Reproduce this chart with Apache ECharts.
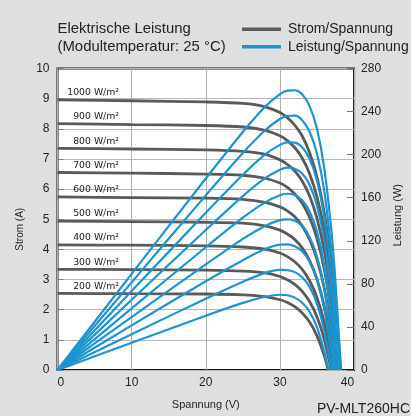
<!DOCTYPE html>
<html><head><meta charset="utf-8">
<script src="https://cdn.jsdelivr.net/npm/echarts@6/dist/echarts.min.js"></script>
<style>html,body{margin:0;padding:0;background:#dedfe1;}#c{width:411px;height:416px;}</style>
</head><body><div id="c"></div>
<script>
// Shared voltage sample points (V)
const voltage = [0, 10, 20, 25, 28, 30, 31, 32, 33, 34, 35, 36, 37, 37.5, 38];
const irradianceLabels = ['1000 W/m²', '900 W/m²', '800 W/m²', '700 W/m²', '600 W/m²', '500 W/m²', '400 W/m²', '300 W/m²', '200 W/m²'];
const openCircuitVoltage = [38.2, 38.1, 37.95, 37.8, 37.6, 37.4, 37.2, 36.9, 36.5];

// Current (A) at each voltage point
const current1000 = [8.96, 8.93, 8.89, 8.84, 8.73, 8.54, 8.37, 8.12, 7.76, 7.21, 6.40, 5.18, 3.38, 2.16, 0.68];
const current900  = [8.17, 8.14, 8.11, 8.06, 7.95, 7.77, 7.61, 7.38, 7.03, 6.51, 5.74, 4.59, 2.87, 1.72, 0.32];
const current800  = [7.35, 7.33, 7.30, 7.25, 7.15, 6.97, 6.82, 6.60, 6.27, 5.77, 5.03, 3.93, 2.30, 1.20];
const current700  = [6.55, 6.53, 6.50, 6.46, 6.36, 6.20, 6.06, 5.84, 5.53, 5.06, 4.36, 3.32, 1.77, 0.73];
const current600  = [5.74, 5.72, 5.70, 5.66, 5.56, 5.41, 5.28, 5.08, 4.78, 4.33, 3.67, 2.68, 1.21, 0.22];
const current500  = [4.94, 4.92, 4.90, 4.87, 4.78, 4.64, 4.51, 4.33, 4.05, 3.63, 3.01, 2.09, 0.72];
const current400  = [4.15, 4.14, 4.12, 4.08, 4.01, 3.88, 3.76, 3.59, 3.34, 2.96, 2.40, 1.56, 0.32];
const current300  = [3.34, 3.33, 3.31, 3.28, 3.22, 3.10, 2.99, 2.84, 2.61, 2.27, 1.76, 1.00];
const current200  = [2.54, 2.53, 2.52, 2.49, 2.43, 2.33, 2.24, 2.10, 1.89, 1.59, 1.13, 0.46];

// Power (W) at each voltage point
const power1000 = [0, 89.3, 177.8, 221.0, 244.4, 256.1, 259.5, 259.8, 256.1, 245.1, 224.0, 186.5, 125.1, 81.0, 25.8];
const power900  = [0, 81.4, 162.2, 201.5, 222.6, 233.1, 235.9, 236.2, 232.0, 221.3, 200.9, 165.2, 106.2, 64.5, 12.2];
const power800  = [0, 73.3, 146.0, 181.3, 200.2, 209.1, 211.4, 211.2, 206.9, 196.2, 176.1, 141.5, 85.1, 45.0];
const power700  = [0, 65.3, 130.0, 161.5, 178.1, 186.0, 187.9, 186.9, 182.5, 172.0, 152.6, 119.5, 65.5, 27.4];
const power600  = [0, 57.2, 114.0, 141.5, 155.7, 162.3, 163.7, 162.6, 157.7, 147.2, 128.5, 96.5, 44.8, 8.3];
const power500  = [0, 49.2, 98.0, 121.8, 133.8, 139.2, 139.8, 138.6, 133.7, 123.4, 105.4, 75.2, 26.6];
const power400  = [0, 41.4, 82.4, 102.0, 112.3, 116.4, 116.6, 114.9, 110.2, 100.6, 84.0, 56.2, 11.8];
const power300  = [0, 33.3, 66.2, 82.0, 90.2, 93.0, 92.7, 90.9, 86.1, 77.2, 61.6, 36.0];
const power200  = [0, 25.3, 50.4, 62.3, 68.0, 69.9, 69.4, 67.2, 62.4, 54.1, 39.6, 16.6];

const currents = [current1000, current900, current800, current700, current600, current500, current400, current300, current200];
const powers = [power1000, power900, power800, power700, power600, power500, power400, power300, power200];

const GRAY = '#5a5a5c';
const BLUE = '#1b94d1';
const FONT = 'Liberation Sans, Arial, sans-serif';

const series = [];
currents.forEach((cur, k) => {
  const data = cur.map((v, i) => [voltage[i], v]).concat([[openCircuitVoltage[k], 0]]);
  series.push({
    type: 'line', name: 'Strom/Spannung', yAxisIndex: 0, data: data,
    smooth: 0.3, symbol: 'none', z: 2,
    lineStyle: { color: GRAY, width: 2.8 }, itemStyle: { color: GRAY },
    markPoint: {
      silent: true, symbol: 'circle', symbolSize: 0,
      itemStyle: { color: 'transparent' },
      label: {
        show: true, position: 'right', distance: 0, align: 'right', verticalAlign: 'middle',
        offset: [61.5, -7], fontSize: 9.3, fontFamily: 'DejaVu Sans, sans-serif', color: '#222',
        formatter: irradianceLabels[k]
      },
      data: [{ coord: [0, cur[0]] }]
    }
  });
});
powers.forEach((pw, k) => {
  const data = pw.map((v, i) => [voltage[i], v]).concat([[openCircuitVoltage[k], 0]]);
  series.push({
    type: 'line', name: 'Leistung/Spannung', yAxisIndex: 1, data: data,
    smooth: 0.3, symbol: 'none', z: 3,
    lineStyle: { color: BLUE, width: 2.2 }, itemStyle: { color: BLUE }
  });
});

const chart = echarts.init(document.getElementById('c'));
chart.setOption({
  animation: false,
  backgroundColor: '#dedfe1',
  textStyle: { fontFamily: FONT },
  title: [
    { text: 'Elektrische Leistung\n(Modultemperatur: 25 °C)', left: 57.5, top: 20.5, padding: 0,
      textStyle: { fontSize: 14.9, fontWeight: 'normal', lineHeight: 17.4, color: '#222', fontFamily: FONT } },
    { text: 'PV-MLT260HC', right: 1, top: 402, padding: 0,
      textStyle: { fontSize: 14, fontWeight: 'normal', color: '#222', fontFamily: FONT } }
  ],
  legend: {
    orient: 'vertical', left: 242, top: 22.3, padding: 0,
    icon: 'rect', itemWidth: 39, itemHeight: 3.5, itemGap: 3.4,
    textStyle: { fontSize: 14, lineHeight: 14, color: '#222', padding: [0, 0, 0, 2], fontFamily: FONT },
    data: ['Strom/Spannung', 'Leistung/Spannung']
  },
  grid: {
    left: 57.5, right: 55.5, top: 68.5, bottom: 46,
    show: true, backgroundColor: '#ffffff', borderColor: '#111111', borderWidth: 2
  },
  xAxis: {
    type: 'value', min: 0, max: 40, interval: 10,
    name: 'Spannung (V)', nameLocation: 'middle', nameGap: 29,
    nameTextStyle: { fontSize: 11, color: '#222' },
    axisLine: { show: false }, axisTick: { show: false },
    axisLabel: { fontSize: 12, color: '#222', margin: 7, alignMinLabel: 'left', alignMaxLabel: 'right' },
    splitLine: { show: true, lineStyle: { color: '#b0b0b0', width: 1 } }
  },
  yAxis: [
    {
      type: 'value', min: 0, max: 10, interval: 1, position: 'left',
      name: 'Strom (A)', nameLocation: 'middle', nameGap: 26,
      nameTextStyle: { fontSize: 10, color: '#222', padding: [0, 20, 0, 0] },
      axisLine: { show: false },
      axisTick: { show: true, inside: true, length: 6, lineStyle: { color: '#808080' } },
      axisLabel: { fontSize: 12, color: '#222', margin: 8 },
      splitLine: { show: true, lineStyle: { color: '#b8b8b8', width: 1 } }
    },
    {
      type: 'value', min: 0, max: 280, interval: 40, position: 'right',
      name: 'Leistung (W)', nameLocation: 'middle', nameGap: 34,
      nameTextStyle: { fontSize: 11, color: '#222', padding: [0, 0, 0, 8] },
      axisLine: { show: false },
      axisTick: { show: true, inside: true, length: 7, lineStyle: { color: '#707070' } },
      axisLabel: { fontSize: 12, color: '#222', margin: 7 },
      splitLine: { show: false }
    }
  ],
  series: series
});
</script>
</body></html>
